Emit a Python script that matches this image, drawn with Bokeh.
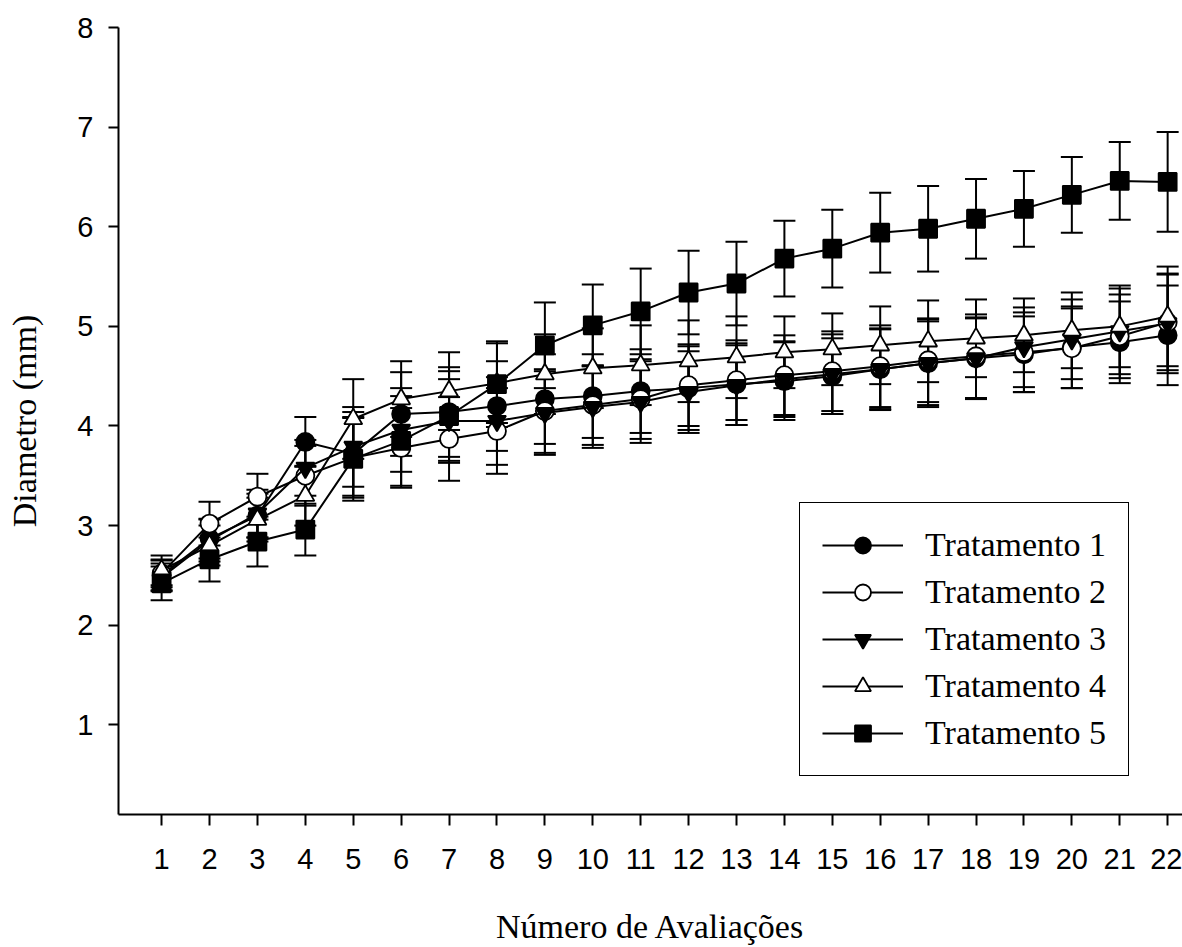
from bokeh.plotting import figure
from bokeh.models import (ColumnDataSource, Whisker, TeeHead, Legend, LegendItem,
                          Range1d, FixedTicker)
from bokeh.embed import file_html
from bokeh.resources import INLINE

avaliacoes = list(range(1, 23))
tick_labels = [str(i) for i in avaliacoes]

t1 = [2.50, 2.87, 3.10, 3.84, 3.72, 4.12, 4.14, 4.20, 4.27, 4.30, 4.35, 4.38, 4.42, 4.45, 4.50, 4.57, 4.63, 4.68, 4.72, 4.79, 4.84, 4.91]
t2 = [2.52, 3.02, 3.29, 3.50, 3.68, 3.78, 3.87, 3.95, 4.15, 4.21, 4.27, 4.41, 4.46, 4.51, 4.55, 4.60, 4.66, 4.70, 4.74, 4.78, 4.90, 5.04]
t3 = [2.48, 2.85, 3.12, 3.58, 3.79, 3.96, 4.05, 4.05, 4.13, 4.19, 4.24, 4.34, 4.41, 4.47, 4.52, 4.57, 4.63, 4.68, 4.79, 4.87, 4.95, 5.03]
t4 = [2.55, 2.80, 3.06, 3.30, 4.07, 4.27, 4.35, 4.43, 4.52, 4.58, 4.61, 4.65, 4.69, 4.74, 4.77, 4.81, 4.85, 4.88, 4.91, 4.96, 5.00, 5.10]
t5 = [2.42, 2.66, 2.84, 2.96, 3.67, 3.85, 4.10, 4.42, 4.81, 5.01, 5.15, 5.34, 5.43, 5.68, 5.78, 5.94, 5.98, 6.08, 6.18, 6.32, 6.46, 6.45]

e1 = [0.15, 0.20, 0.22, 0.25, 0.42, 0.42, 0.45, 0.45, 0.45, 0.42, 0.42, 0.42, 0.41, 0.39, 0.38, 0.41, 0.44, 0.41, 0.38, 0.41, 0.41, 0.50]
e2 = [0.14, 0.22, 0.23, 0.30, 0.40, 0.40, 0.42, 0.43, 0.42, 0.40, 0.40, 0.41, 0.40, 0.40, 0.40, 0.41, 0.42, 0.42, 0.40, 0.40, 0.42, 0.48]
e3 = [0.14, 0.21, 0.24, 0.28, 0.40, 0.42, 0.42, 0.44, 0.42, 0.41, 0.41, 0.41, 0.40, 0.38, 0.40, 0.40, 0.42, 0.40, 0.40, 0.40, 0.43, 0.50]
e4 = [0.15, 0.20, 0.22, 0.30, 0.40, 0.38, 0.39, 0.40, 0.40, 0.40, 0.40, 0.41, 0.41, 0.36, 0.36, 0.39, 0.41, 0.39, 0.37, 0.38, 0.41, 0.50]
e5 = [0.17, 0.22, 0.25, 0.26, 0.42, 0.45, 0.45, 0.43, 0.43, 0.41, 0.43, 0.42, 0.42, 0.38, 0.39, 0.40, 0.43, 0.40, 0.38, 0.38, 0.39, 0.50]

names = ["Tratamento 1", "Tratamento 2", "Tratamento 3", "Tratamento 4", "Tratamento 5"]
series = [t1, t2, t3, t4, t5]
errors = [e1, e2, e3, e4, e5]
markers = ["circle", "circle", "inverted_triangle", "triangle", "square"]
fills = ["black", "white", "black", "white", "black"]
sizes = [18, 18, 18, 18, 18]

p = figure(width=1182, height=947, output_backend="svg", toolbar_location=None,
           x_range=Range1d(0.10, 22.31), y_range=Range1d(0.1, 8.0),
           min_border_left=118, min_border_right=0, min_border_top=27,
           min_border_bottom=130)
p.outline_line_color = None
p.xgrid.visible = False
p.ygrid.visible = False
p.background_fill_color = "white"
p.border_fill_color = "white"

for ax in (p.xaxis[0], p.yaxis[0]):
    ax.axis_line_width = 2
    ax.axis_line_color = "black"
    ax.major_tick_line_width = 2
    ax.major_tick_line_color = "black"
    ax.major_tick_in = 0
    ax.major_tick_out = 10
    ax.minor_tick_line_color = None
    ax.major_label_text_font = "Liberation Sans"
    ax.major_label_text_font_size = "29px"
    ax.major_label_text_color = "black"
    ax.axis_label_text_font = "Liberation Serif"
    ax.axis_label_text_font_size = "34px"
    ax.axis_label_text_font_style = "normal"
    ax.axis_label_text_color = "black"

p.xaxis.ticker = FixedTicker(ticks=avaliacoes)
p.xaxis.major_label_overrides = {i: s for i, s in zip(avaliacoes, tick_labels)}
p.yaxis.ticker = FixedTicker(ticks=[1, 2, 3, 4, 5, 6, 7, 8])
p.xaxis.major_tick_out = 11
p.xaxis.major_label_standoff = 23
p.yaxis.major_label_standoff = 15
p.xaxis.axis_label = "Número de Avaliações"
p.yaxis.axis_label = "Diametro (mm)"
p.xaxis.axis_label_standoff = 36
p.yaxis.axis_label_standoff = 31

items = []
for name, ys, es, mk, fc, sz in zip(names, series, errors, markers, fills, sizes):
    src = ColumnDataSource(dict(x=avaliacoes, y=ys,
                                upper=[a + b for a, b in zip(ys, es)],
                                lower=[a - b for a, b in zip(ys, es)]))
    w = Whisker(base="x", upper="upper", lower="lower", source=src,
                line_width=2, line_color="black",
                upper_head=TeeHead(size=22, line_width=2, line_color="black"),
                lower_head=TeeHead(size=22, line_width=2, line_color="black"))
    p.add_layout(w)
    ln = p.line("x", "y", source=src, line_width=2, line_color="black")
    sc = p.scatter("x", "y", source=src, marker=mk, size=sz, fill_color=fc,
                   line_color="black", line_width=1.8)
    items.append(LegendItem(label=name, renderers=[ln, sc]))

legend = Legend(items=items, location=(681, 38), orientation="vertical",
                border_line_color="black", border_line_width=1.5, border_line_alpha=1.0,
                background_fill_color="white", background_fill_alpha=1,
                label_text_font="Liberation Serif", label_text_font_size="34px",
                label_text_color="black",
                glyph_width=81, glyph_height=40, label_height=40,
                spacing=7, padding=22, label_standoff=22, margin=0)
p.add_layout(legend, "center")

open("out.html", "w").write(file_html(p, INLINE))
